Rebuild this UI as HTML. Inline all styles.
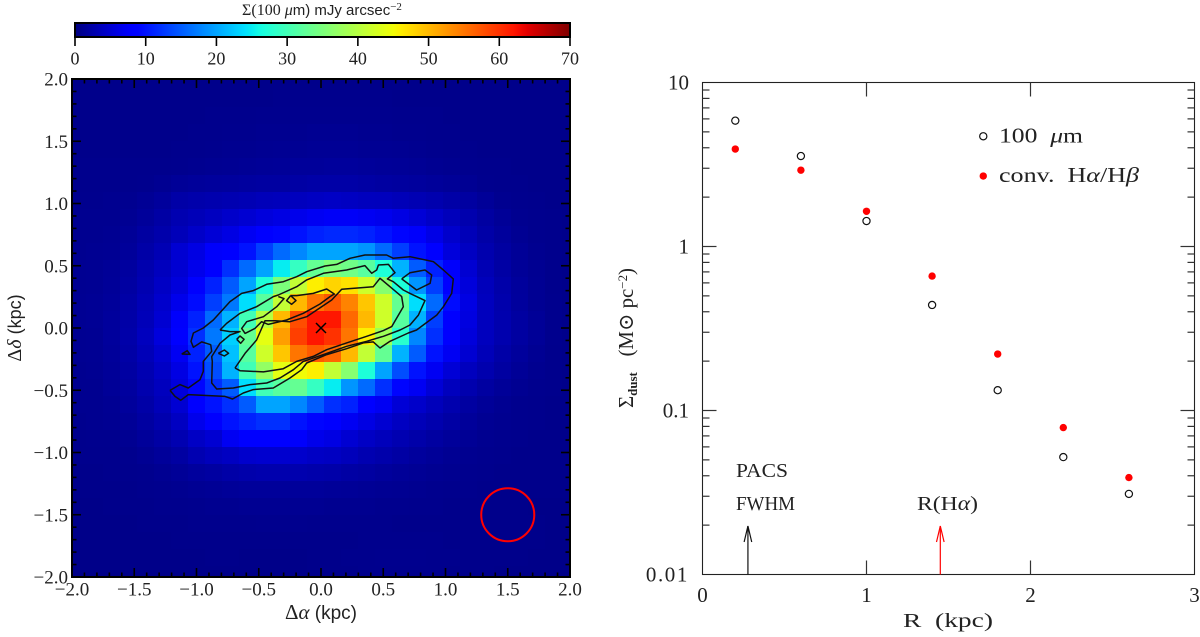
<!DOCTYPE html>
<html lang="en">
<head>
<meta charset="utf-8">
<title>Dust surface density map and radial profile</title>
<style>
html,body{margin:0;padding:0;background:#fff;}
svg{display:block;}
text{font-family:"Liberation Serif","DejaVu Serif",serif;fill:#222;}
.sans{font-family:"Liberation Sans","DejaVu Sans",sans-serif;}
</style>
</head>
<body>
<svg id="figure" xmlns="http://www.w3.org/2000/svg" width="1200" height="637" viewBox="0 0 1200 637">
  <defs>
    <clipPath id="map-clip"><rect x="72" y="79" width="498" height="498"></rect></clipPath>
    <linearGradient id="jet-gradient" x1="0" x2="1" y1="0" y2="0"></linearGradient>
  </defs>
  <g id="map-panel">
    <g id="heat-cells" clip-path="url(#map-clip)"></g>
    <g id="contours" clip-path="url(#map-clip)"></g>
    <g id="map-ticks"></g>
    <rect x="72" y="79" width="498" height="498" fill="none" stroke="#000" stroke-width="2"></rect>
    <g id="map-labels"></g>
    <text x="321" y="619" text-anchor="middle" font-size="21">Δ<tspan font-style="italic">α</tspan> <tspan class="sans" font-size="19">(kpc)</tspan></text>
    <text transform="translate(21,328) rotate(-90)" text-anchor="middle" font-size="20">Δ<tspan font-style="italic">δ</tspan> <tspan class="sans" font-size="18">(kpc)</tspan></text>
  </g>
  <g id="colorbar">
    <text x="322" y="15" text-anchor="middle" font-size="16">Σ(100 <tspan font-style="italic">μ</tspan><tspan class="sans" font-size="15">m) mJy arcsec</tspan><tspan dy="-5" font-size="11">−2</tspan></text>
    <rect x="75" y="23" width="495" height="14" fill="url(#jet-gradient)" stroke="#000" stroke-width="2"></rect>
    <g id="colorbar-ticks"></g>
  </g>
  <g id="profile-panel">
    <rect x="702.5" y="82.5" width="492" height="492" fill="none" stroke="#222" stroke-width="1.1"></rect>
    <g id="profile-ticks"></g>
    <g id="profile-labels"></g>
    <g id="profile-points"></g>
    <g id="profile-arrows"></g>
    <text x="903" y="627" font-size="20" textLength="90" lengthAdjust="spacingAndGlyphs" xml:space="preserve">R  (kpc)</text>
    <text transform="translate(633,408) rotate(-90)" font-size="21" textLength="140" lengthAdjust="spacingAndGlyphs" xml:space="preserve">Σ<tspan dy="4" font-size="13" font-weight="bold">dust</tspan><tspan dy="-4">   (M⊙ pc</tspan><tspan dy="-6" font-size="13">−2</tspan><tspan dy="6">)</tspan></text>
    <text x="999" y="142.5" font-size="21" textLength="84" lengthAdjust="spacingAndGlyphs" xml:space="preserve">100  <tspan font-style="italic">μ</tspan>m</text>
    <text x="999" y="182" font-size="21" textLength="140" lengthAdjust="spacingAndGlyphs" xml:space="preserve">conv.  H<tspan font-style="italic">α</tspan>/H<tspan font-style="italic">β</tspan></text>
    <text x="736" y="477" font-size="20" textLength="52" lengthAdjust="spacingAndGlyphs">PACS</text>
    <text x="736" y="510" font-size="20" textLength="59" lengthAdjust="spacingAndGlyphs">FWHM</text>
    <text x="917" y="510" font-size="20" textLength="61" lengthAdjust="spacingAndGlyphs">R(H<tspan font-style="italic">α</tspan>)</text>
  </g>
</svg>
<script>
// ---- Heatmap values: Sigma(100 um) in mJy/arcsec^2, read by eye, top row first ----
const heatRows = [
[.7,.7,.7,.7,.7,.7,.7,.7,.7,.7,.7,.7,.7,.7,.7,.7,.7,.7,.7,.7,.7,.7,.7,.7,.7,.7,.7,.7,.7,.7],
[.7,.7,.7,.7,.7,.7,.7,.7,.7,.7,.7,.7,.8,.8,.8,.8,.8,.8,.8,.7,.7,.7,.7,.7,.7,.7,.7,.7,.7,.7],
[.7,.7,.7,.7,.7,.7,.7,.7,.8,.8,.8,.9,.9,.9,.9,.9,.9,.9,.9,.8,.8,.8,.7,.7,.7,.7,.7,.7,.7,.7],
[.7,.7,.7,.7,.7,.7,.7,.8,.8,.9,.9,1,1,1,1.1,1.1,1.1,1,1,.9,.9,.8,.8,.7,.7,.7,.7,.7,.7,.7],
[.7,.7,.7,.7,.7,.7,.8,.8,.9,1,1,1.1,1.2,1.2,1.3,1.3,1.3,1.2,1.2,1.1,1,.9,.8,.8,.7,.7,.7,.7,.7,.7],
[.8,.8,.8,.8,.8,.8,.9,1,1.1,1.2,1.3,1.4,1.5,1.6,1.6,1.7,1.7,1.6,1.5,1.4,1.3,1.1,1,.9,.8,.8,.7,.7,.7,.7],
[.8,.8,.8,.8,.9,1.1,1.4,1.6,1.7,1.8,1.9,2,2,2.2,2.4,2.4,2.4,2.2,2,1.9,1.8,1.6,1.4,1.2,.9,.8,.8,.7,.7,.7],
[.9,.9,1,1,1.3,1.7,2.4,2.6,2.8,3,3.2,3.5,3.6,3.8,4,4.2,4,3.8,3.7,3.4,3.1,2.8,2.4,2,1.5,1,.9,.8,.7,.7],
[1,1,1,1.2,1.6,2.2,3,3.4,3.9,4.5,5,5.6,6,6.5,7,7.3,7.3,7,6.6,6,5.2,4.4,3.6,2.8,2,1.4,1,.9,.8,.7],
[1,1,1.1,1.4,2,2.6,3.5,4.4,5.2,6,7,8,9,10,11,11.5,11.5,11,10,9,7.5,6.2,4.6,3.4,2.4,1.7,1.2,.9,.8,.7],
[1,1.1,1.2,1.6,2.4,3.2,5,6,7.5,8.5,10,13,16,18,20,20,20,19,16,13,10,8,5.5,4,2.8,2,1.4,1,.8,.7],
[1.1,1.2,1.4,1.9,2.8,3.8,5,6.5,8.5,12,16,20,25,29,33,35,34,32,27,21,15,11,7.5,5,3.2,2.2,1.5,1.1,.8,.7],
[1.1,1.2,1.5,2.1,3,4.2,5.5,8,11,15,20,27,35,41,46,48,47,42,36,27,19,13,8.5,5.5,3.6,2.5,1.7,1.2,.8,.7],
[1.2,1.3,1.6,2.3,3.3,4.6,6.5,9.5,13,17,24,32,41,50,55,57,54,49,42,33,24,16,9.5,6,3.8,2.7,1.8,1.2,.9,.7],
[1.2,1.3,1.7,2.4,3.5,5,7.5,11,16,21,30,40,50,58,62,62,56,50,42,32,21,13,8.5,5.8,3.8,2.8,2,1.4,.9,.7],
[1.1,1.2,1.7,2.5,3.8,5.6,8,12,17,23,33,44,52,59,62,60,55,46,38,28,18,12,8,5.5,3.8,2.8,2,1.4,.9,.7],
[1.1,1.2,1.6,2.3,3.4,4.8,7,11,15,22,32,42,49,55,57,56,50,41,33,21,15,10,7,5,3.4,2.4,1.7,1.2,.8,.7],
[1,1.1,1.5,2.1,3,4.2,6,10,14,21,30,37,44,45,46,41,36,27,20,14,10,7,5.2,3.8,2.8,2,1.4,1,.8,.7],
[1,1,1.4,1.9,2.8,3.8,5.5,9,12,15,24,30,32,33,29,25,19,16,12,9,7,5.2,3.8,2.8,2,1.5,1.1,.9,.8,.7],
[1,1,1.2,1.7,2.4,3.4,5,8,10,12,15,20,20,18,15,12,11,8,7,5.2,4.5,3.6,2.8,2,1.5,1.1,.9,.8,.7,.7],
[.9,1,1.1,1.4,2,2.8,4,6.5,8,10,11,12,12,10,9,8,7,6,5,4,3.4,2.8,2.2,1.6,1.2,1,.9,.8,.7,.7],
[.8,.9,.9,1.1,1.6,2.2,3,4.2,5,7,8,8,8,7.5,6.5,6,5,4.2,3.6,3,2.5,2,1.6,1.3,1,.9,.8,.7,.7,.7],
[.8,.8,.8,.9,1.2,1.6,2.1,3,3.6,4,4.6,4.8,4.8,4.6,4.2,4,3.6,3,2.6,2.2,1.8,1.5,1.2,1,.9,.8,.7,.7,.7,.7],
[.7,.7,.8,.8,.9,1.1,1.4,1.8,2,2.4,2.6,2.8,2.8,2.8,2.6,2.5,2.2,2,1.7,1.5,1.3,1.1,1,.9,.8,.7,.7,.7,.7,.7],
[.7,.7,.7,.7,.8,.9,1,1.2,1.3,1.5,1.6,1.6,1.6,1.6,1.6,1.5,1.4,1.3,1.2,1.1,1,.9,.8,.8,.7,.7,.7,.7,.7,.7],
[.6,.6,.7,.7,.7,.8,.8,.9,1,1,1.1,1.1,1.1,1.1,1.1,1,1,1,.9,.9,.8,.8,.7,.7,.7,.7,.7,.6,.6,.6],
[.6,.6,.6,.6,.7,.7,.7,.8,.8,.8,.8,.9,.9,.9,.8,.8,.8,.8,.8,.7,.7,.7,.7,.7,.7,.7,.7,.7,.6,.6],
[.6,.6,.6,.6,.6,.6,.7,.7,.7,.7,.7,.7,.7,.7,.7,.7,.7,.8,.8,.8,.8,.8,.7,.7,.7,.7,.7,.7,.6,.6],
[.6,.6,.6,.6,.6,.6,.6,.6,.7,.7,.6,.6,.6,.6,.7,.7,.8,.8,.9,.9,.9,.8,.8,.7,.7,.7,.7,.6,.6,.6],
[.6,.6,.6,.6,.6,.6,.6,.6,.6,.6,.6,.6,.6,.6,.7,.7,.7,.8,.8,.8,.8,.8,.7,.7,.7,.6,.6,.6,.6,.6]
];

// ---- Contours in kpc, as [dAlpha, dDelta] ----
const contourOuter = [[-1.213,-.501],[-1.133,-.455],[-1.066,-.482],[-.972,-.415],[-.945,-.348],[-.945,-.268],[-.878,-.187],[-.886,-.134],[-.958,-.112],[-1.025,-.155],[-1.044,-.107],[-1.025,-.04],[-.945,0],[-.865,.064],[-.731,.212],[-.637,.278],[-.544,.3],[-.436,.351],[-.303,.372],[-.195,.412],[-.115,.452],[.032,.498],[.126,.511],[.233,.56],[.353,.586],[.527,.586],[.581,.56],[.715,.573],[.902,.533],[.983,.466],[1.063,.394],[1.05,.278],[.983,.171],[.929,.104],[.822,.024],[.768,-.016],[.701,-.04],[.554,-.107],[.474,-.161],[.42,-.112],[.34,-.12],[.206,-.166],[.046,-.214],[-.115,-.281],[-.155,-.335],[-.249,-.402],[-.383,-.482],[-.544,-.495],[-.624,-.522],[-.71,-.57],[-.771,-.549],[-1.066,-.535],[-1.127,-.581],[-1.173,-.549],[-1.213,-.501]];
const contourMiddle = [[-.811,-.016],[-.758,.037],[-.651,.118],[-.517,.171],[-.383,.252],[-.343,.265],[-.195,.332],[-.115,.386],[.019,.439],[.206,.466],[.353,.501],[.407,.439],[.447,.466],[.461,.506],[.541,.511],[.594,.444],[.533,.394],[.581,.372],[.661,.305],[.715,.278],[.835,.22],[.782,.104],[.715,.024],[.635,-.016],[.501,-.067],[.367,-.107],[.206,-.147],[.019,-.214],[-.142,-.268],[-.222,-.335],[-.329,-.402],[-.436,-.442],[-.57,-.455],[-.704,-.482],[-.838,-.49],[-.878,-.442],[-.873,-.268],[-.878,-.23],[-.811,-.123],[-.731,-.056],[-.651,-.029],[-.731,-.029],[-.811,-.016]];
const contourInner = [[-.691,-.321],[-.651,-.343],[-.463,-.353],[-.303,-.327],[-.195,-.268],[-.062,-.228],[.046,-.174],[.206,-.12],[.367,-.067],[.501,-.021],[.568,.011],[.661,.171],[.648,.252],[.554,.332],[.474,.399],[.42,.332],[.166,.311],[.086,.225],[-.115,.091],[-.249,.051],[-.369,.059],[-.45,.059],[-.517,-.096],[-.61,-.203],[-.691,-.321]];
const contourRidge = [[-.343,.252],[-.297,.236],[-.356,.171],[-.463,.091],[-.597,.051],[-.637,-.003],[-.61,-.043],[-.53,-.003],[-.477,.051],[-.423,.029],[-.276,.064],[-.142,.118],[-.008,.193],[.072,.252],[.107,.273],[.046,.313],[-.062,.278],[-.195,.26],[-.244,.26]];
const contourRightLoop = [[.648,.394],[.715,.444],[.835,.466],[.889,.426],[.876,.359],[.768,.305],[.648,.394]];
const contourDiamondTop = [[-.244,.26],[-.276,.22],[-.236,.19],[-.201,.22],[-.244,.26]];
const contourDiamondA = [[-.677,-.091],[-.651,-.064],[-.618,-.091],[-.645,-.123],[-.677,-.091]];
const contourDiamondB = [[-.825,-.203],[-.776,-.177],[-.742,-.203],[-.776,-.225],[-.825,-.203]];
const contourSpeck = [[-1.119,-.209],[-1.074,-.182],[-1.052,-.212],[-1.119,-.209]];
const contourList = [contourOuter,contourMiddle,contourInner,contourRidge,contourRightLoop,contourDiamondTop,contourDiamondA,contourDiamondB,contourSpeck];

// ---- Map annotations, kpc ----
const peakMarker = [0,0];
const beamCenter = [1.5,-1.5];
const beamRadiusKpc = 0.213;

// ---- Tick values ----
const mapMajorTicks = [-2,-1.5,-1,-.5,0,.5,1,1.5,2];
const mapTickLabels = ["−2.0","−1.5","−1.0","−0.5","0.0","0.5","1.0","1.5","2.0"];
const colorbarTicks = [0,10,20,30,40,50,60,70];

// ---- Radial profile data ----
const radii = [.2,.6,1,1.4,1.8,2.2,2.6];
const sigma100um = [5.85,3.56,1.43,.44,.133,.052,.031];
const sigmaConv = [3.93,2.92,1.64,.66,.221,.0787,.039];
const profileXTicks = [0,1,2,3];
const profileYTicks = [10,1,.1,.01];
const profileYLabels = ["10","1","0.1","0.01"];
const minorMultipliers = [2,3,4,5,6,7,8,9];
const arrowPacsR = .277;
const arrowHalphaR = 1.45;
const legendSymbolR = 1.712;
const legendSymbolSigma = [4.7,2.69];

const NS = "http://www.w3.org/2000/svg";
function mk(tag, attrs, parent){
  const el = document.createElementNS(NS, tag);
  for (const k in attrs) el.setAttribute(k, attrs[k]);
  parent.appendChild(el);
  return el;
}
// Axis functions
const mapX = v => 321 + v * 124.5;
const mapY = v => 328 - v * 124.5;
const cbX = v => 75 + v / 70 * 495;
const profX = v => 702.5 + v * 164;
const profY = v => 82.5 + (1 - Math.log10(v)) * 164;

function lerpStops(stops, t){
  for (let i = 1; i < stops.length; i++){
    if (t <= stops[i][0]){
      const a = stops[i-1], b = stops[i];
      return a[1] + (b[1]-a[1]) * (t-a[0]) / (b[0]-a[0]);
    }
  }
  return stops[stops.length-1][1];
}
function jet(v){
  const t = Math.max(0, Math.min(1, v / 70));
  const r = lerpStops([[0,0],[.35,0],[.66,1],[.89,1],[1,.5]], t);
  const g = lerpStops([[0,0],[.125,0],[.375,1],[.64,1],[.91,0],[1,0]], t);
  const b = lerpStops([[0,.5],[.11,1],[.34,1],[.65,0],[1,0]], t);
  return "rgb(" + Math.round(r*255) + "," + Math.round(g*255) + "," + Math.round(b*255) + ")";
}

// Heatmap
const heatGroup = document.getElementById("heat-cells");
const cellKpc = 17 / 124.5;
const firstEdgeX = mapX(0) + 3 - 15 * 17;
const firstEdgeY = mapY(0) - 15 * 17;
heatRows.forEach((row, r) => {
  row.forEach((v, c) => {
    const cell = mk("rect", {
      x: firstEdgeX + c * cellKpc * 124.5,
      y: firstEdgeY + r * cellKpc * 124.5,
      width: 17.3,
      height: 17.3,
      fill: jet(v),
      "shape-rendering": "crispEdges"
    }, heatGroup);
    
    
  });
});

// Contours
const contourGroup = document.getElementById("contours");
contourList.forEach(pts => {
  const line = mk("polyline", {
    points: pts.map(p => mapX(p[0]).toFixed(1) + "," + mapY(p[1]).toFixed(1)).join(" "),
    fill: "none", stroke: "#111", "stroke-width": 1.5, "stroke-linejoin": "round"
  }, contourGroup);
  
  
});
const peakGroup = mk("g", {stroke:"#000","stroke-width":1.5}, contourGroup);


mk("line", {x1:mapX(peakMarker[0])-5, y1:mapY(peakMarker[1])-5, x2:mapX(peakMarker[0])+5, y2:mapY(peakMarker[1])+5}, peakGroup);
mk("line", {x1:mapX(peakMarker[0])-5, y1:mapY(peakMarker[1])+5, x2:mapX(peakMarker[0])+5, y2:mapY(peakMarker[1])-5}, peakGroup);
const beam = mk("circle", {cx:mapX(beamCenter[0]), cy:mapY(beamCenter[1]), r:beamRadiusKpc*124.5, fill:"none", stroke:"#f00", "stroke-width":2}, contourGroup);



// Map ticks
const mapTicks = document.getElementById("map-ticks");
for (let i = -20; i <= 20; i++){
  const v = i / 10;
  const len = i % 5 === 0 ? 9 : 4.5;
  [[mapX(v),577,mapX(v),577-len],[mapX(v),79,mapX(v),79+len],[72,mapY(v),72+len,mapY(v)],[570,mapY(v),570-len,mapY(v)]].forEach(t => {
    mk("line", {x1:t[0],y1:t[1],x2:t[2],y2:t[3],stroke:"#000","stroke-width":1.6}, mapTicks);
  });
}
const mapLabels = document.getElementById("map-labels");
mapMajorTicks.forEach((v, i) => {
  const xl = mk("text", {x:mapX(v), y:595.5, "text-anchor":"middle", "font-size":19}, mapLabels);
  xl.textContent = mapTickLabels[i];
  
  
  const yl = mk("text", {x:68, y:mapY(v)+6.5, "text-anchor":"end", "font-size":19}, mapLabels);
  yl.textContent = mapTickLabels[i];
  
  
});

// Colorbar
const gradient = document.getElementById("jet-gradient");
for (let v = 0; v <= 70; v += 1){
  mk("stop", {offset:(v/70*100)+"%", "stop-color":jet(v)}, gradient);
}
const cbTicks = document.getElementById("colorbar-ticks");
colorbarTicks.forEach(v => {
  mk("line", {x1:cbX(v), y1:37, x2:cbX(v), y2:46, stroke:"#000", "stroke-width":1.6}, cbTicks);
  const t = mk("text", {x:cbX(v), y:64.5, "text-anchor":"middle", "font-size":18}, cbTicks);
  t.textContent = String(v);
  
  
});

// Profile ticks
const profTicks = document.getElementById("profile-ticks");
const profTickStyle = {stroke:"#333","stroke-width":1.2};
function pTick(x1,y1,x2,y2){
  mk("line", Object.assign({x1:x1,y1:y1,x2:x2,y2:y2}, profTickStyle), profTicks);
}
profileXTicks.slice(1,3).forEach(v => {
  pTick(profX(v),574.5,profX(v),560.5);
  pTick(profX(v),82.5,profX(v),96.5);
});
profileYTicks.forEach((v, i) => {
  if (i > 0 && i < 3){
    pTick(702.5,profY(v),716.5,profY(v));
    pTick(1194.5,profY(v),1180.5,profY(v));
  }
  if (i > 0){
    minorMultipliers.forEach(m => {
      const y = profY(v * m);
      pTick(702.5,y,709.5,y);
      pTick(1194.5,y,1187.5,y);
    });
  }
});
const profLabels = document.getElementById("profile-labels");
profileXTicks.forEach(v => {
  const t = mk("text", {x:profX(v), y:602, "text-anchor":"middle", "font-size":21}, profLabels);
  t.textContent = String(v);
  
  
});
profileYTicks.forEach((v, i) => {
  const t = mk("text", {x:689, y:profY(v)+7, "text-anchor":"end", "font-size":21}, profLabels);
  t.textContent = profileYLabels[i];
  if (profileYLabels[i].length === 4) t.setAttribute("letter-spacing", "1.6");
  
  
});

// Profile points
const profPoints = document.getElementById("profile-points");
function openMarker(x, y, name){
  const c = mk("circle", {cx:x, cy:y, r:3.6, fill:"none", stroke:"#111", "stroke-width":1.2}, profPoints);
  
  
}
function redMarker(x, y, name){
  const c = mk("circle", {cx:x, cy:y, r:3.7, fill:"#f00"}, profPoints);
  
  
}
radii.forEach((r, i) => {
  openMarker(profX(r), profY(sigma100um[i]), 'point-100um');
  redMarker(profX(r), profY(sigmaConv[i]), 'point-conv-halpha-hbeta');
});
openMarker(profX(legendSymbolR), profY(legendSymbolSigma[0]), 'legend-symbol-100um');
redMarker(profX(legendSymbolR), profY(legendSymbolSigma[1]), 'legend-symbol-conv');

// Arrows
const arrowGroup = document.getElementById("profile-arrows");
function arrow(r, color, name){
  const x = profX(r);
  const g = mk("g", {fill:"none", stroke:color, "stroke-width":1.2}, arrowGroup);
  
  
  mk("line", {x1:x, y1:574.5, x2:x, y2:526}, g);
  mk("polyline", {points:(x-3.8)+",542 "+x+",526 "+(x+3.8)+",542"}, g);
}
arrow(arrowPacsR, "#111", 'pacs-fwhm-arrow');
arrow(arrowHalphaR, "#f00", 'r-halpha-arrow');
</script>
</body>
</html>
